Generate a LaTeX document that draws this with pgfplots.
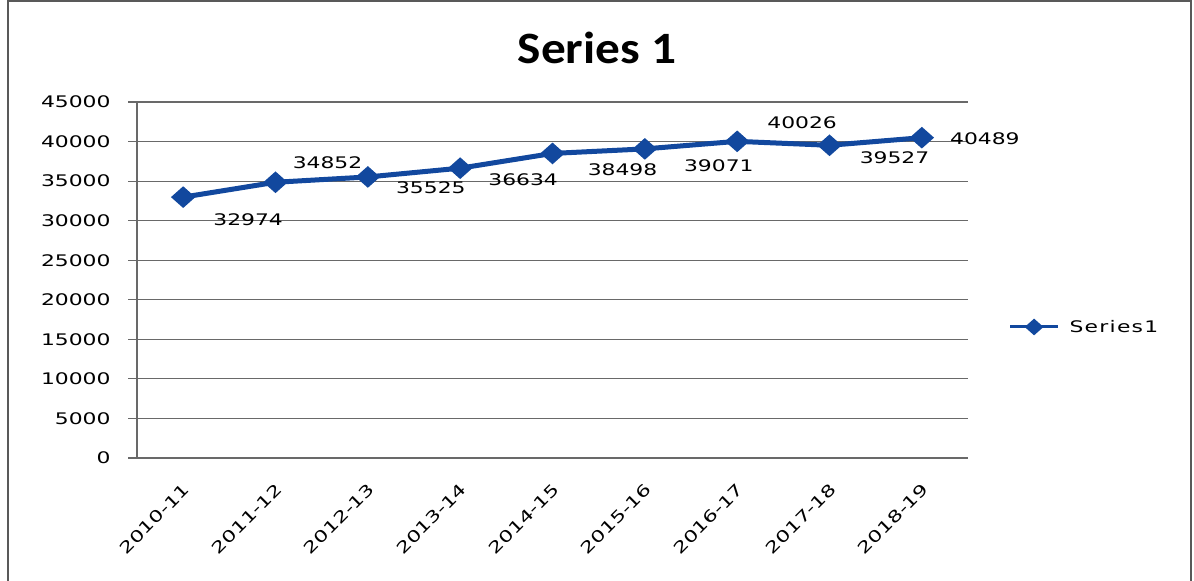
\documentclass[border=0pt]{standalone}
\usepackage{pgfplots}
\pgfplotsset{compat=1.18}
\usepackage{fontspec}
\setmainfont{DejaVu Sans}[FakeStretch=1.37]
\newfontfamily\legfont{DejaVu Sans}[FakeStretch=1.37, LetterSpace=8]
\newfontfamily\titlefont{Carlito}[FakeStretch=1.1]
\definecolor{ser}{RGB}{18,72,158}
\definecolor{gridc}{RGB}{105,105,105}
\newcommand{\lbl}{\fontsize{16}{19}\selectfont}
\begin{document}
\begin{tikzpicture}[x=1bp,y=1bp]
\useasboundingbox (0,0) rectangle (1194,581);
\draw[gray!70!black, line width=1.5bp] (8,-5) -- (8,580) -- (1191,580) -- (1191,-5);
\node[font=\titlefont\bfseries\fontsize{45}{50}\selectfont] at (597,533) {Series 1};
\begin{axis}[
  at={(137bp,123bp)}, anchor=south west,
  scale only axis, width=831bp, height=356bp,
  xmin=-0.5, xmax=8.5, ymin=0, ymax=45000,
  axis lines*=left,
  axis line style={gridc, line width=1.2bp},
  ytick={0,5000,...,45000},
  scaled y ticks=false,
  /pgf/number format/assume math mode=true,
  /pgf/number format/1000 sep={},
  ymajorgrids, grid style={gridc, line width=1.2bp},
  tick align=outside, major tick length=9bp,
  tick style={gridc, line width=1.2bp},
  yticklabel style={font=\lbl, xshift=-14bp},
  xtick={0,...,8},
  xticklabels={2010-11,2011-12,2012-13,2013-14,2014-15,2015-16,2016-17,2017-18,2018-19},
  major x tick style={draw=none},
  extra x ticks={-0.5,0.5,1.5,2.5,3.5,4.5,5.5,6.5,7.5,8.5},
  extra x tick labels={},
  extra x tick style={tick style={gridc, line width=1.2bp}, major tick length=9bp},
  xticklabel style={font=\lbl, xshift=6bp, yshift=-17bp, rotate=45, anchor=east},
  legend style={at={(rel axis cs:1.045,0.368)}, anchor=west, draw=none, fill=none, font=\legfont\lbl},
  legend image code/.code={
    \draw[#1, mark=none, line width=3bp] (0bp,0bp) -- (48bp,0bp);
    \draw[#1, only marks, mark size=5bp] plot coordinates {(24bp,0bp)};
  },
  clip=false,
]
\addplot[ser, line width=5bp, mark=diamond*, mark size=7.5bp, mark options={solid, fill=ser, xscale=1.5}]
  coordinates {(0,32974) (1,34852) (2,35525) (3,36634) (4,38498) (5,39071) (6,40026) (7,39527) (8,40489)};
\addlegendentry{\hspace{8bp}Series1}
\node[font=\lbl, xshift=65bp, yshift=-23bp] at (axis cs:0,32974) {32974};
\node[font=\lbl, xshift=52bp, yshift=20bp] at (axis cs:1,34852) {34852};
\node[font=\lbl, xshift=63bp, yshift=-11bp] at (axis cs:2,35525) {35525};
\node[font=\lbl, xshift=63bp, yshift=-12bp] at (axis cs:3,36634) {36634};
\node[font=\lbl, xshift=70bp, yshift=-16bp] at (axis cs:4,38498) {38498};
\node[font=\lbl, xshift=74bp, yshift=-17bp] at (axis cs:5,39071) {39071};
\node[font=\lbl, xshift=65bp, yshift=19bp] at (axis cs:6,40026) {40026};
\node[font=\lbl, xshift=65bp, yshift=-12bp] at (axis cs:7,39527) {39527};
\node[font=\lbl, xshift=63bp, yshift=-1bp] at (axis cs:8,40489) {40489};
\end{axis}
\end{tikzpicture}
\end{document}
